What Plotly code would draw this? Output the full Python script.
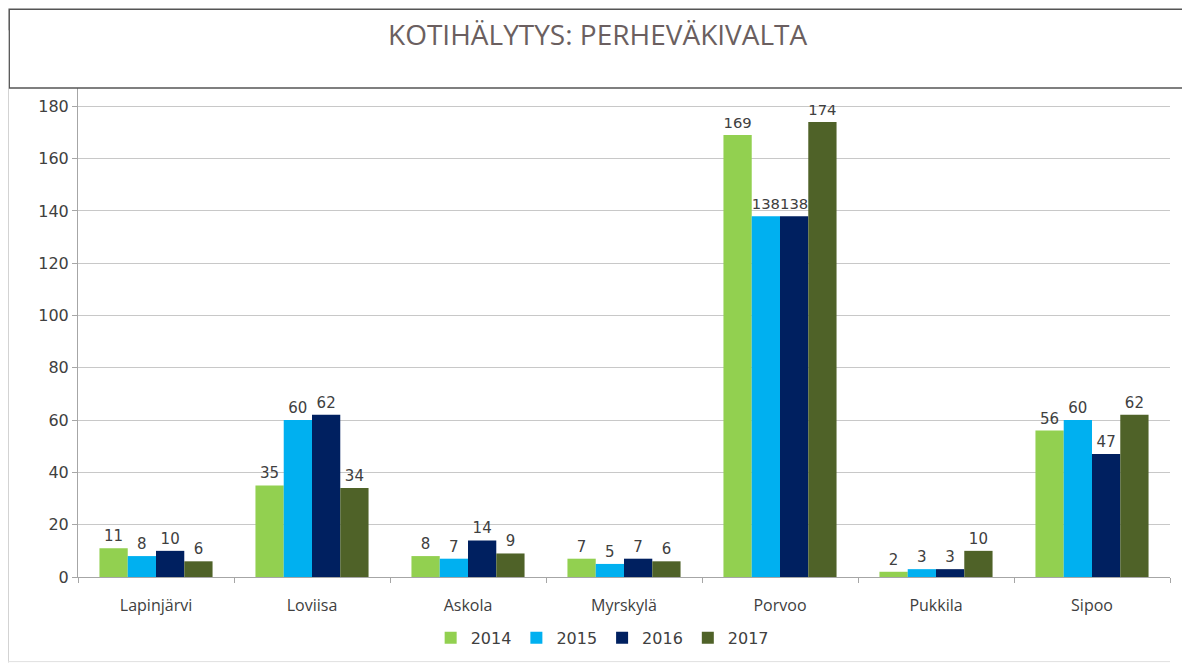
import plotly.graph_objs as go

# data
municipalities = ["Lapinjärvi", "Loviisa", "Askola", "Myrskylä", "Porvoo", "Pukkila", "Sipoo"]
years = ["2014", "2015", "2016", "2017"]
v2014 = [11, 35, 8, 7, 169, 2, 56]
v2015 = [8, 60, 7, 5, 138, 3, 60]
v2016 = [10, 62, 14, 7, 138, 3, 47]
v2017 = [6, 34, 9, 6, 174, 10, 62]

series = [v2014, v2015, v2016, v2017]
colors = ["#92D050", "#00B0F0", "#002060", "#4F6228"]

fig = go.Figure()
for year, vals, col in zip(years, series, colors):
    fig.add_trace(go.Bar(
        x=municipalities, y=vals, name=year,
        marker=dict(color=col, line=dict(width=0)),
        text=vals, textposition="outside", cliponaxis=False,
        textfont=dict(family="DejaVu Sans", size=15, color="#404040"),
    ))

# page has an 8px body margin, so the figure is a bit smaller and margins shifted
fig.update_layout(
    width=1182, height=658,
    barmode="group", bargap=0.275, bargroupgap=0,
    plot_bgcolor="white", paper_bgcolor="white",
    margin=dict(l=70, r=20, t=80, b=88),
    showlegend=True,
    legend=dict(orientation="h", x=0.48, xanchor="center", y=-0.122, yanchor="middle",
                font=dict(family="DejaVu Sans", size=16, color="#404040"),
                itemwidth=30, traceorder="normal"),
    xaxis=dict(showline=True, linecolor="#a6a6a6", ticks="outside", tickson="boundaries",
               tickcolor="#a6a6a6", ticklen=5, ticklabelstandoff=14,
               tickfont=dict(family="Open Sans", size=16, color="#404040")),
    yaxis=dict(range=[0, 187], tickvals=list(range(0, 181, 20)), showline=True,
               linecolor="#a6a6a6", ticks="outside", tickcolor="#a6a6a6", ticklen=5,
               gridcolor="#c8c8c8", zeroline=False,
               tickfont=dict(family="DejaVu Sans", size=16, color="#404040")),
)

# title box and outer frame
fig.add_shape(type="rect", xref="paper", yref="paper", x0=-0.063, x1=1.05, y0=1.0, y1=1.161,
              line=dict(color="#555555", width=1.5), fillcolor="white", layer="above")
fig.add_shape(type="line", xref="paper", yref="paper", x0=-0.064, x1=-0.064, y0=1.118, y1=-0.175,
              line=dict(color="#cccccc", width=1.5))
fig.add_shape(type="line", xref="paper", yref="paper", x0=-0.064, x1=1.0, y0=-0.173, y1=-0.173,
              line=dict(color="#e0e0e0", width=1))
fig.add_annotation(text="KOTIHÄLYTYS: PERHEVÄKIVALTA", xref="paper", yref="paper",
                   x=0.476, y=1.11, showarrow=False, xanchor="center", yanchor="middle",
                   font=dict(family="Open Sans", size=28, color="#6b5f60"))

fig.write_html("out.html")
